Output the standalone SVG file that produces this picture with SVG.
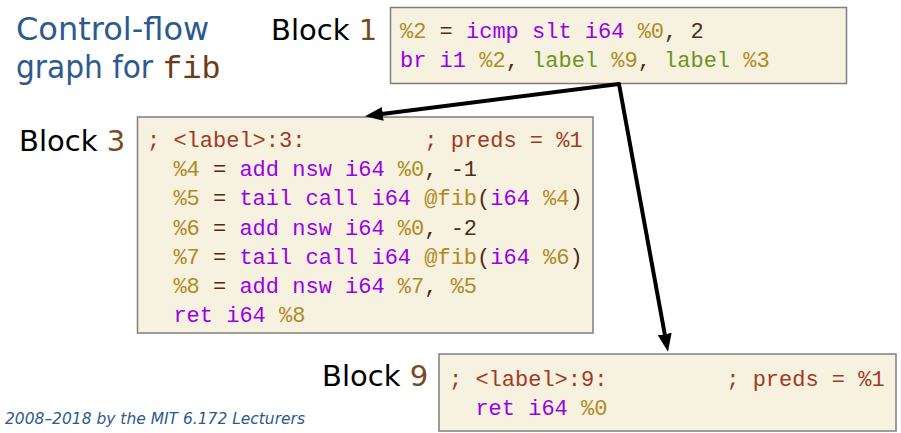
<svg xmlns="http://www.w3.org/2000/svg" width="901" height="433" viewBox="0 0 901 433">
<style>
.title{font-family:"DejaVu Sans",sans-serif;font-size:32px;fill:#2C5A8F}
.mono{font-family:"Liberation Mono","DejaVu Sans Mono",monospace}
.blk{font-family:"DejaVu Sans",sans-serif;font-size:29px;fill:#000}
.num{fill:#7A4A1E}
.box{fill:#F7F1DF;stroke:#7F7F7F;stroke-width:1.5}
.code{font-family:"Liberation Mono","DejaVu Sans Mono",monospace;font-size:22px;fill:#4D2B14}
.v{fill:#B08A22}
.k{fill:#9A00E6}
.l{fill:#6E9420}
.n{fill:#4D2B14}
.c{fill:#A23A1E}
.edge{fill:none;stroke:#000;stroke-width:4;stroke-linecap:round}
.foot{font-family:"DejaVu Sans",sans-serif;font-style:italic;font-size:15px;fill:#2C5A8F}
</style>
<defs>
<marker id="arr" markerUnits="userSpaceOnUse" markerWidth="18" markerHeight="14" refX="7" refY="7" orient="auto">
<path d="M0,0 L18,7 L0,14 z" fill="#000"/>
</marker>
</defs>
<g id="title">
<text class="title" x="16" y="40">Control-flow</text>
<text class="title" x="16" y="78" textLength="137" lengthAdjust="spacingAndGlyphs">graph for</text>
<text class="mono" x="163" y="78" style="font-size:32px;fill:#6E3B16">fib</text>
</g>
<g id="block1">
<text class="blk" x="271" y="40">Block <tspan class="num">1</tspan></text>
<rect class="box" x="390.5" y="7.5" width="456" height="76"/>
<text class="code" x="400" y="38" xml:space="preserve"><tspan class="v">%2</tspan><tspan class="n"> = </tspan><tspan class="k">icmp slt i64 </tspan><tspan class="v">%0</tspan><tspan class="n">, 2</tspan></text>
<text class="code" x="400" y="67" xml:space="preserve"><tspan class="k">br i1 </tspan><tspan class="v">%2</tspan><tspan class="n">, </tspan><tspan class="l">label </tspan><tspan class="v">%9</tspan><tspan class="n">, </tspan><tspan class="l">label </tspan><tspan class="v">%3</tspan></text>
</g>
<g id="block3">
<text class="blk" x="19" y="151">Block <tspan class="num">3</tspan></text>
<rect class="box" x="137.5" y="117" width="455.5" height="216"/>
<text class="code c" x="147" y="147" xml:space="preserve">; &lt;label&gt;:3:         ; preds = %1</text>
<text class="code" x="147" y="176" xml:space="preserve">  <tspan class="v">%4</tspan><tspan class="n"> = </tspan><tspan class="k">add nsw i64 </tspan><tspan class="v">%0</tspan><tspan class="n">, -1</tspan></text>
<text class="code" x="147" y="205.3" xml:space="preserve">  <tspan class="v">%5</tspan><tspan class="n"> = </tspan><tspan class="k">tail call i64 </tspan><tspan class="v">@fib</tspan><tspan class="n">(</tspan><tspan class="k">i64 </tspan><tspan class="v">%4</tspan><tspan class="n">)</tspan></text>
<text class="code" x="147" y="234.5" xml:space="preserve">  <tspan class="v">%6</tspan><tspan class="n"> = </tspan><tspan class="k">add nsw i64 </tspan><tspan class="v">%0</tspan><tspan class="n">, -2</tspan></text>
<text class="code" x="147" y="263.7" xml:space="preserve">  <tspan class="v">%7</tspan><tspan class="n"> = </tspan><tspan class="k">tail call i64 </tspan><tspan class="v">@fib</tspan><tspan class="n">(</tspan><tspan class="k">i64 </tspan><tspan class="v">%6</tspan><tspan class="n">)</tspan></text>
<text class="code" x="147" y="292.9" xml:space="preserve">  <tspan class="v">%8</tspan><tspan class="n"> = </tspan><tspan class="k">add nsw i64 </tspan><tspan class="v">%7</tspan><tspan class="n">, </tspan><tspan class="v">%5</tspan></text>
<text class="code" x="147" y="322" xml:space="preserve">  <tspan class="k">ret i64 </tspan><tspan class="v">%8</tspan></text>
</g>
<g id="block9">
<text class="blk" x="322" y="386">Block <tspan class="num">9</tspan></text>
<rect class="box" x="439" y="354" width="457" height="77"/>
<text class="code c" x="449" y="386" xml:space="preserve">; &lt;label&gt;:9:         ; preds = %1</text>
<text class="code" x="449" y="415" xml:space="preserve">  <tspan class="k">ret i64 </tspan><tspan class="v">%0</tspan></text>
</g>
<g id="connectors">
<path class="edge" d="M619,84 L375.9,114.8" marker-end="url(#arr)"/>
<path class="edge" d="M619,84 L666,341" marker-end="url(#arr)"/>
</g>
<g id="footer">
<text class="foot" x="5" y="424" textLength="300" lengthAdjust="spacingAndGlyphs">2008–2018 by the MIT 6.172 Lecturers</text>
</g>
</svg>
